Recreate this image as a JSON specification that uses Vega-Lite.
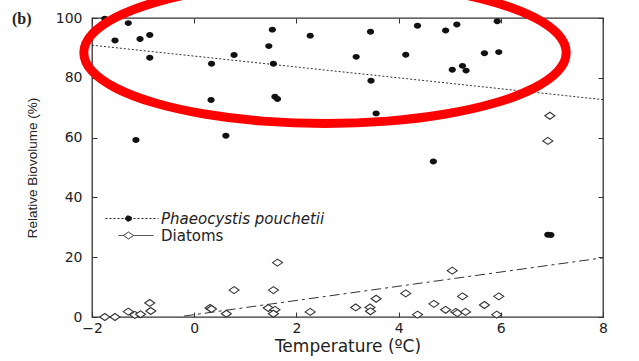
{
  "$schema": "https://vega.github.io/schema/vega-lite/v6.json",
  "width": 511,
  "height": 299,
  "autosize": {"type": "none"},
  "padding": {"left": 92, "top": 18, "right": 36, "bottom": 44},
  "background": "white",
  "title": {"text": "(b)", "anchor": "start", "frame": "group", "dx": -80, "dy": 71, "offset": 0, "baseline": "middle", "font": "Liberation Serif", "fontSize": 16, "fontWeight": "bold", "color": "#222"},
  "config": {
    "view": {"stroke": "#333", "strokeWidth": 1.3},
    "axis": {"grid": false, "domain": false, "tickColor": "#333", "tickSize": -5, "labelColor": "#222", "titleColor": "#222", "labelFlush": false, "labelOverlap": false, "titleFontWeight": "normal"}
  },
  "datasets": {
    "pts": [
      {"t": -1.75, "v": 99.8, "s": "Phaeocystis pouchetii"},
      {"t": -1.29, "v": 98.3, "s": "Phaeocystis pouchetii"},
      {"t": -1.55, "v": 92.5, "s": "Phaeocystis pouchetii"},
      {"t": -1.06, "v": 93.0, "s": "Phaeocystis pouchetii"},
      {"t": -0.87, "v": 94.3, "s": "Phaeocystis pouchetii"},
      {"t": -0.87, "v": 86.7, "s": "Phaeocystis pouchetii"},
      {"t": -1.14, "v": 59.2, "s": "Phaeocystis pouchetii"},
      {"t": 0.34, "v": 84.7, "s": "Phaeocystis pouchetii"},
      {"t": 0.33, "v": 72.6, "s": "Phaeocystis pouchetii"},
      {"t": 0.78, "v": 87.6, "s": "Phaeocystis pouchetii"},
      {"t": 0.62, "v": 60.6, "s": "Phaeocystis pouchetii"},
      {"t": 1.53, "v": 96.1, "s": "Phaeocystis pouchetii"},
      {"t": 1.46, "v": 90.6, "s": "Phaeocystis pouchetii"},
      {"t": 1.55, "v": 84.7, "s": "Phaeocystis pouchetii"},
      {"t": 1.58, "v": 73.7, "s": "Phaeocystis pouchetii"},
      {"t": 1.63, "v": 72.9, "s": "Phaeocystis pouchetii"},
      {"t": 2.27, "v": 94.1, "s": "Phaeocystis pouchetii"},
      {"t": 3.45, "v": 95.4, "s": "Phaeocystis pouchetii"},
      {"t": 3.17, "v": 87.0, "s": "Phaeocystis pouchetii"},
      {"t": 3.46, "v": 79.0, "s": "Phaeocystis pouchetii"},
      {"t": 3.56, "v": 68.1, "s": "Phaeocystis pouchetii"},
      {"t": 4.37, "v": 97.4, "s": "Phaeocystis pouchetii"},
      {"t": 4.14, "v": 87.7, "s": "Phaeocystis pouchetii"},
      {"t": 4.92, "v": 95.8, "s": "Phaeocystis pouchetii"},
      {"t": 5.14, "v": 97.8, "s": "Phaeocystis pouchetii"},
      {"t": 5.05, "v": 82.7, "s": "Phaeocystis pouchetii"},
      {"t": 5.25, "v": 84.0, "s": "Phaeocystis pouchetii"},
      {"t": 5.32, "v": 82.4, "s": "Phaeocystis pouchetii"},
      {"t": 5.68, "v": 88.2, "s": "Phaeocystis pouchetii"},
      {"t": 5.96, "v": 88.6, "s": "Phaeocystis pouchetii"},
      {"t": 5.93, "v": 98.9, "s": "Phaeocystis pouchetii"},
      {"t": 4.68, "v": 52.0, "s": "Phaeocystis pouchetii"},
      {"t": 6.92, "v": 27.5, "s": "Phaeocystis pouchetii"},
      {"t": 6.98, "v": 27.4, "s": "Phaeocystis pouchetii"},
      {"t": 6.96, "v": 67.3, "s": "Diatoms"},
      {"t": 6.92, "v": 58.9, "s": "Diatoms"},
      {"t": -1.75, "v": 0.0, "s": "Diatoms"},
      {"t": -1.55, "v": 0.0, "s": "Diatoms"},
      {"t": -1.29, "v": 1.8, "s": "Diatoms"},
      {"t": -1.16, "v": 0.7, "s": "Diatoms"},
      {"t": -1.05, "v": 0.9, "s": "Diatoms"},
      {"t": -0.87, "v": 4.7, "s": "Diatoms"},
      {"t": -0.85, "v": 2.0, "s": "Diatoms"},
      {"t": 0.31, "v": 3.0, "s": "Diatoms"},
      {"t": 0.34, "v": 2.7, "s": "Diatoms"},
      {"t": 0.63, "v": 1.1, "s": "Diatoms"},
      {"t": 0.78, "v": 9.0, "s": "Diatoms"},
      {"t": 1.55, "v": 9.0, "s": "Diatoms"},
      {"t": 1.63, "v": 18.2, "s": "Diatoms"},
      {"t": 1.45, "v": 3.0, "s": "Diatoms"},
      {"t": 1.58, "v": 2.4, "s": "Diatoms"},
      {"t": 1.55, "v": 1.1, "s": "Diatoms"},
      {"t": 2.27, "v": 1.7, "s": "Diatoms"},
      {"t": 3.16, "v": 3.2, "s": "Diatoms"},
      {"t": 3.44, "v": 3.2, "s": "Diatoms"},
      {"t": 3.45, "v": 1.9, "s": "Diatoms"},
      {"t": 3.56, "v": 6.1, "s": "Diatoms"},
      {"t": 4.14, "v": 7.9, "s": "Diatoms"},
      {"t": 4.37, "v": 0.8, "s": "Diatoms"},
      {"t": 4.69, "v": 4.4, "s": "Diatoms"},
      {"t": 4.92, "v": 2.4, "s": "Diatoms"},
      {"t": 5.05, "v": 15.5, "s": "Diatoms"},
      {"t": 5.12, "v": 1.7, "s": "Diatoms"},
      {"t": 5.15, "v": 1.3, "s": "Diatoms"},
      {"t": 5.31, "v": 1.7, "s": "Diatoms"},
      {"t": 5.25, "v": 6.9, "s": "Diatoms"},
      {"t": 5.68, "v": 4.0, "s": "Diatoms"},
      {"t": 5.96, "v": 6.9, "s": "Diatoms"},
      {"t": 5.92, "v": 0.8, "s": "Diatoms"}
    ],
    "trend": [
      {"t": -2, "v": 90.9, "s": "Phaeocystis pouchetii"},
      {"t": 8, "v": 72.7, "s": "Phaeocystis pouchetii"},
      {"t": -0.2, "v": 0.3, "s": "Diatoms"},
      {"t": 8, "v": 19.8, "s": "Diatoms"}
    ],
    "ring": [
      {"i": 0, "t": 7.28, "v": 88.4},
      {"i": 1, "t": 7.12, "v": 94.54},
      {"i": 2, "t": 6.65, "v": 100.25},
      {"i": 3, "t": 5.90, "v": 105.16},
      {"i": 4, "t": 4.92, "v": 108.92},
      {"i": 5, "t": 3.78, "v": 111.29},
      {"i": 6, "t": 2.56, "v": 112.1},
      {"i": 7, "t": 1.34, "v": 111.29},
      {"i": 8, "t": 0.20, "v": 108.92},
      {"i": 9, "t": -0.78, "v": 105.16},
      {"i": 10, "t": -1.53, "v": 100.25},
      {"i": 11, "t": -2.00, "v": 94.54},
      {"i": 12, "t": -2.16, "v": 88.4},
      {"i": 13, "t": -2.00, "v": 82.26},
      {"i": 14, "t": -1.53, "v": 76.55},
      {"i": 15, "t": -0.78, "v": 71.64},
      {"i": 16, "t": 0.20, "v": 67.88},
      {"i": 17, "t": 1.34, "v": 65.51},
      {"i": 18, "t": 2.56, "v": 64.7},
      {"i": 19, "t": 3.78, "v": 65.51},
      {"i": 20, "t": 4.92, "v": 67.88},
      {"i": 21, "t": 5.90, "v": 71.64},
      {"i": 22, "t": 6.65, "v": 76.55},
      {"i": 23, "t": 7.12, "v": 82.26}
    ]
  },
  "layer": [
    {
      "data": {"name": "trend"},
      "transform": [{"filter": "datum.s == 'Phaeocystis pouchetii'"}],
      "mark": {"type": "line", "stroke": "#333", "strokeWidth": 1, "strokeDash": [2, 2]},
      "encoding": {
        "x": {"field": "t", "type": "quantitative", "scale": {"domain": [-2, 8], "nice": false, "zero": false}, "axis": null},
        "y": {"field": "v", "type": "quantitative", "scale": {"domain": [0, 100], "nice": false, "zero": false}, "axis": null}
      }
    },
    {
      "data": {"name": "trend"},
      "transform": [{"filter": "datum.s == 'Diatoms'"}],
      "mark": {"type": "line", "stroke": "#333", "strokeWidth": 1, "strokeDash": [10, 4, 3, 4]},
      "encoding": {
        "x": {"field": "t", "type": "quantitative", "axis": null},
        "y": {"field": "v", "type": "quantitative", "axis": null}
      }
    },
    {
      "data": {"name": "pts"},
      "transform": [{"filter": "datum.s == 'Diatoms'"}],
      "mark": {"type": "point", "shape": "M-1,0L0,-0.7L1,0L0,0.7Z", "size": 100, "filled": false, "fill": "white", "stroke": "#333", "strokeWidth": 1.1, "opacity": 1},
      "encoding": {
        "x": {"field": "t", "type": "quantitative", "axis": {"orient": "top", "values": [-2, 0, 2, 4, 6, 8], "labels": false, "title": null}},
        "y": {"field": "v", "type": "quantitative", "axis": {"orient": "right", "values": [0, 20, 40, 60, 80, 100], "labels": false, "title": null}}
      }
    },
    {
      "data": {"name": "pts"},
      "transform": [{"filter": "datum.s == 'Phaeocystis pouchetii'"}],
      "mark": {"type": "point", "shape": "M1,0A1,0.82,0,1,1,-1,0A1,0.82,0,1,1,1,0Z", "size": 52, "filled": true, "fill": "#111", "strokeWidth": 0, "opacity": 1},
      "encoding": {
        "x": {"field": "t", "type": "quantitative", "axis": {"orient": "bottom", "values": [-2, 0, 2, 4, 6, 8], "labelPadding": 9, "labelFont": "DejaVu Sans", "labelFontSize": 14, "title": "Temperature (ºC)", "titleFont": "DejaVu Sans", "titleFontSize": 17, "titlePadding": 3}},
        "y": {"field": "v", "type": "quantitative", "axis": {"orient": "left", "values": [0, 20, 40, 60, 80, 100], "labelPadding": 15, "labelFont": "DejaVu Sans", "labelFontSize": 14, "title": "Relative Biovolume (%)", "titleFont": "Liberation Sans", "titleFontSize": 13.5, "titlePadding": 16}}
      }
    },
    {
      "data": {"name": "pts"},
      "transform": [{"filter": "false"}],
      "mark": {"type": "point", "stroke": "#222", "strokeWidth": 1, "opacity": 1},
      "encoding": {
        "shape": {"field": "s", "type": "nominal", "scale": {"domain": ["Phaeocystis pouchetii", "Diatoms"], "range": ["M-5.125,0H1.5M-1.84,0A0.41,0.35,0,1,1,-2.66,0A0.41,0.35,0,1,1,-1.84,0Z", "M-3.5,0H-2.875M-1.625,0H0.875M-2.875,0L-2.25,-0.44L-1.625,0L-2.25,0.44Z"]},
          "legend": {"title": null, "orient": "none", "legendX": 46, "legendY": 192, "padding": 0, "rowPadding": -2, "symbolSize": 256, "symbolStrokeWidth": 1, "symbolOpacity": 1, "labelOffset": 6, "labelFont": "DejaVu Sans", "labelFontSize": 15, "labelColor": "#222", "labelLimit": 400,
            "labelFontStyle": {"expr": "datum.value == 'Diatoms' ? 'normal' : 'italic'"}}},
        "fill": {"field": "s", "type": "nominal", "scale": {"domain": ["Phaeocystis pouchetii", "Diatoms"], "range": ["#111", "white"]}, "legend": {"title": null}},
        "strokeDash": {"field": "s", "type": "nominal", "scale": {"domain": ["Phaeocystis pouchetii", "Diatoms"], "range": [[2, 2], [1, 0]]}, "legend": {"title": null}}
      }
    },
    {
      "data": {"name": "ring"},
      "mark": {"type": "line", "stroke": "#ff0000", "strokeWidth": 9, "interpolate": "cardinal-closed", "clip": false},
      "encoding": {
        "x": {"field": "t", "type": "quantitative", "axis": null},
        "y": {"field": "v", "type": "quantitative", "axis": null},
        "order": {"field": "i", "type": "quantitative"}
      }
    }
  ],
  "resolve": {"axis": {"x": "independent", "y": "independent"}}
}
